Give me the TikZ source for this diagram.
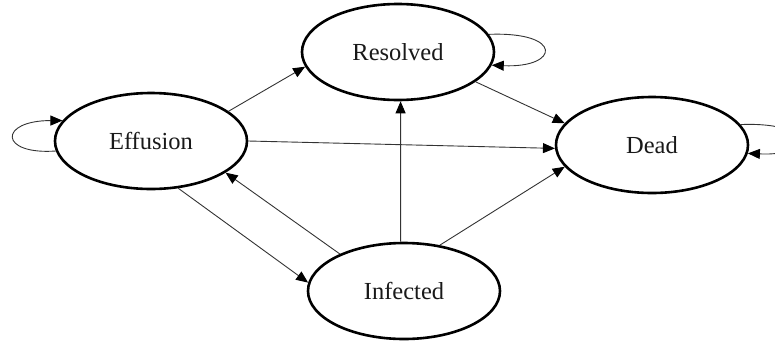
\documentclass[tikz,border=0pt]{standalone}
\usepackage{fontspec}
\setmainfont{Liberation Serif}
\usetikzlibrary{arrows.meta,shapes.geometric}
\begin{document}
\begin{tikzpicture}[x=1pt,y=-1pt,
  state/.style={ellipse,draw,line width=2.6pt,minimum width=192pt,minimum height=96pt,
    inner sep=0pt,font=\fontsize{24.5}{28}\selectfont,text=black!90},
  link/.style={draw=black!80,line width=0.9pt,-{Triangle[length=12pt,width=10pt,fill=black,color=black]}}]
\useasboundingbox (0,0) rectangle (775,343);

\node[state] (eff) at (151,141) {Effusion};
\node[state] (res) at (398,52) {Resolved};
\node[state] (dead) at (652,145) {Dead};
\node[state] (inf) at (404,291) {Infected};

% transitions between states
\draw[link] (eff.21) -- (res.189);
\draw[link] (eff.0) -- (dead.182);
\draw[link] (eff.-60) -- (inf.175);
\draw[link] (inf.150) -- (eff.-23);
\draw[link] (inf.94) -- (res.-87);
\draw[link] (inf.52) -- (dead.194);
\draw[link] (res.-21) -- (dead.166);

% self transitions
\draw[link] (eff.186) .. controls +(-57,4) and +(-64,0) .. (eff.167);
\draw[link] (res.11) .. controls +(75,-3) and +(68,3) .. (res.-8);
\draw[link] (dead.13) .. controls +(75,-3) and +(68,3) .. (dead.-5);
\end{tikzpicture}
\end{document}
